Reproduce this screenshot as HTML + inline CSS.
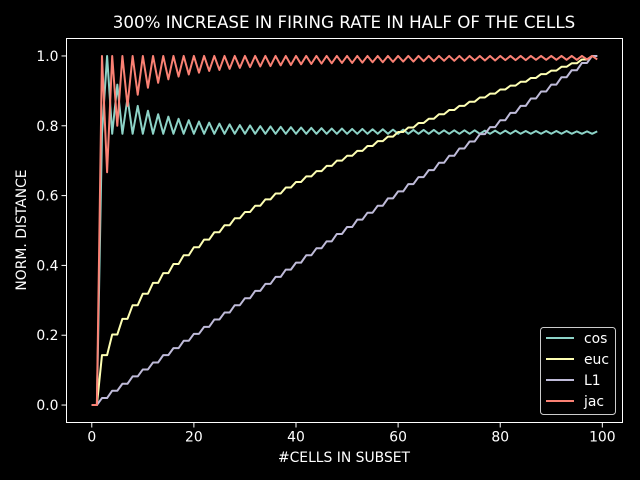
<!DOCTYPE html>
<html><head><meta charset="utf-8"><style>
body{margin:0;background:#000;}
svg{display:block;font-family:"DejaVu Sans","Liberation Sans",sans-serif;}
</style></head><body>
<svg id="chart" width="640" height="480" viewBox="0 0 640 480">
<rect width="640" height="480" fill="#000"/>
<text x="344" y="28" fill="#fff" font-size="16.7" text-anchor="middle">300% INCREASE IN FIRING RATE IN HALF OF THE CELLS</text>
<g id="plot"></g>
<rect x="66.5" y="38.5" width="556" height="384" fill="none" stroke="#fff" stroke-width="1"/>
<text x="344" y="462" fill="#fff" font-size="13.9" text-anchor="middle">#CELLS IN SUBSET</text>
<text transform="translate(26,230) rotate(-90)" fill="#fff" font-size="13.9" text-anchor="middle">NORM. DISTANCE</text>
<g id="ticks"></g>
<g id="legend"></g>
</svg>
<script>
const xTicks=[0,20,40,60,80,100];
const yTicks=[0,0.2,0.4,0.6,0.8,1.0];
const yTickLabels=["0.0","0.2","0.4","0.6","0.8","1.0"];
const seriesNames=["cos","euc","L1","jac"];
const cos=[0,0,.777,1.0,.777,.918,.777,.880,.777,.857,.777,.843,.777,.833,.777,.826,.777,.820,.777,.816,.777,.812,.777,.809,.777,.806,.777,.804,.777,.802,.777,.801,.777,.799,.777,.798,.777,.797,.777,.796,.777,.795,.777,.794,.777,.793,.777,.792,.777,.792,.777,.791,.777,.791,.777,.790,.777,.790,.777,.789,.777,.789,.777,.788,.777,.788,.777,.788,.777,.787,.777,.787,.777,.787,.777,.787,.777,.786,.777,.786,.777,.786,.777,.786,.777,.785,.777,.785,.777,.785,.777,.785,.777,.785,.777,.784,.777,.784,.777,.784];
const euc=[0,0,.143,.143,.202,.202,.247,.247,.286,.286,.319,.319,.350,.350,.378,.378,.404,.404,.429,.429,.452,.452,.474,.474,.495,.495,.515,.515,.535,.535,.553,.553,.571,.571,.589,.589,.606,.606,.623,.623,.639,.639,.655,.655,.670,.670,.685,.685,.700,.700,.714,.714,.728,.728,.742,.742,.756,.756,.769,.769,.782,.782,.795,.795,.808,.808,.820,.820,.833,.833,.845,.845,.857,.857,.869,.869,.881,.881,.892,.892,.904,.904,.915,.915,.926,.926,.937,.937,.948,.948,.958,.958,.969,.969,.979,.979,.990,.990,1.0,1.0];
const l1=[0,0,.020,.020,.041,.041,.061,.061,.082,.082,.102,.102,.122,.122,.143,.143,.163,.163,.184,.184,.204,.204,.224,.224,.245,.245,.265,.265,.286,.286,.306,.306,.327,.327,.347,.347,.367,.367,.388,.388,.408,.408,.429,.429,.449,.449,.469,.469,.490,.490,.510,.510,.531,.531,.551,.551,.571,.571,.592,.592,.612,.612,.633,.633,.653,.653,.673,.673,.694,.694,.714,.714,.735,.735,.755,.755,.776,.776,.796,.796,.816,.816,.837,.837,.857,.857,.878,.878,.898,.898,.918,.918,.939,.939,.959,.959,.980,.980,1.0,1.0];
const jac=[0,0,1,.667,1,.8,1,.857,1,.889,1,.909,1,.923,1,.933,1,.941,1,.947,1,.952,1,.957,1,.96,1,.963,1,.966,1,.968,1,.97,1,.971,1,.973,1,.974,1,.976,1,.977,1,.978,1,.979,1,.98,1,.98,1,.981,1,.982,1,.982,1,.983,1,.984,1,.984,1,.985,1,.985,1,.986,1,.986,1,.986,1,.987,1,.987,1,.987,1,.988,1,.988,1,.988,1,.989,1,.989,1,.989,1,.989,1,.989,1,.99,1,.99];
const colors=["#8dd3c7","#feffb3","#bfbbd9","#fa8174"];
const NS="http://www.w3.org/2000/svg";
const X0=66.5,X1=622.5,Y0=422.5,Y1=38.5;
const xmin=-4.95,xmax=103.95,ymin=-0.05,ymax=1.05;
function sx(v){return X0+(v-xmin)/(xmax-xmin)*(X1-X0);}
function sy(v){return Y0-(v-ymin)/(ymax-ymin)*(Y0-Y1);}
const plot=document.getElementById('plot');
const ticks=document.getElementById('ticks');
[cos,euc,l1,jac].forEach((s,i)=>{
  const p=document.createElementNS(NS,'polyline');
  p.setAttribute('points',s.map((v,j)=>sx(j).toFixed(2)+','+sy(v).toFixed(2)).join(' '));
  p.setAttribute('fill','none');p.setAttribute('stroke',colors[i]);p.setAttribute('stroke-width','2');
  p.setAttribute('stroke-linejoin','round');
  
  
  plot.appendChild(p);
});
xTicks.forEach(t=>{
  const l=document.createElementNS(NS,'line');
  l.setAttribute('x1',sx(t));l.setAttribute('x2',sx(t));l.setAttribute('y1',Y0);l.setAttribute('y2',Y0+5);
  l.setAttribute('stroke','#fff');
  
  
  ticks.appendChild(l);
  const tx=document.createElementNS(NS,'text');
  tx.setAttribute('x',sx(t));tx.setAttribute('y',Y0+19);tx.setAttribute('fill','#fff');
  tx.setAttribute('font-size','13.9');tx.setAttribute('text-anchor','middle');tx.textContent=t;
  
  
  ticks.appendChild(tx);
});
yTicks.forEach((t,i)=>{
  const l=document.createElementNS(NS,'line');
  l.setAttribute('x1',X0-5);l.setAttribute('x2',X0);l.setAttribute('y1',sy(t));l.setAttribute('y2',sy(t));
  l.setAttribute('stroke','#fff');
  
  
  ticks.appendChild(l);
  const tx=document.createElementNS(NS,'text');
  tx.setAttribute('x',X0-8);tx.setAttribute('y',sy(t)+5);tx.setAttribute('fill','#fff');
  tx.setAttribute('font-size','13.9');tx.setAttribute('text-anchor','end');tx.textContent=yTickLabels[i];
  
  
  ticks.appendChild(tx);
});
const lg=document.getElementById('legend');
const box=document.createElementNS(NS,'rect');
box.setAttribute('x',540.5);box.setAttribute('y',327.5);box.setAttribute('width',75);box.setAttribute('height',87);
box.setAttribute('rx',3);box.setAttribute('fill','#000');box.setAttribute('fill-opacity','0.8');box.setAttribute('stroke','#ccc');


lg.appendChild(box);
seriesNames.forEach((n,i)=>{
  const y=338+i*21;
  const l=document.createElementNS(NS,'line');
  l.setAttribute('x1',546);l.setAttribute('x2',574);l.setAttribute('y1',y);l.setAttribute('y2',y);
  l.setAttribute('stroke',colors[i]);l.setAttribute('stroke-width','2');
  
  
  lg.appendChild(l);
  const tx=document.createElementNS(NS,'text');
  tx.setAttribute('x',584);tx.setAttribute('y',y+5);tx.setAttribute('fill','#fff');tx.setAttribute('font-size','13.9');
  tx.textContent=n;
  
  
  lg.appendChild(tx);
});
</script>
</body></html>
